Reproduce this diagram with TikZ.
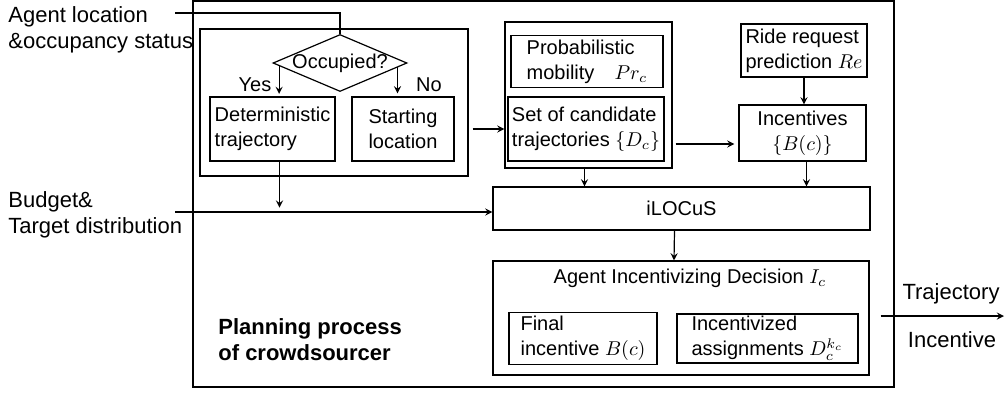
\documentclass[tikz,border=0pt]{standalone}
\usepackage{fontspec}
\setmainfont{Liberation Sans}
\usetikzlibrary{shapes.geometric,arrows,positioning,calc}

\begin{document}
\begin{tikzpicture}[
    x=0.5pt, y=-0.5pt,
    font=\fontsize{10}{12.5}\selectfont,
    box/.style={rectangle, draw=black, line width=0.6pt, inner sep=2pt, align=left},
    arrow/.style={->, >=stealth, line width=0.6pt},
    wire/.style={line width=0.6pt},
    lbl/.style={inner sep=0pt, align=left, font=\fontsize{11}{13}\selectfont}
]
\useasboundingbox (0,0) rectangle (1005,392);

% outer frame and the two groups
\node[box, minimum width=350.5pt, minimum height=193pt] (frame) at (543.5,194) {};
\node[box, minimum width=134pt, minimum height=73.5pt] (grp1) at (334,102.5) {};
\node[box, minimum width=83.5pt, minimum height=73pt] (grp2) at (588.5,95) {};

% left group
\node[diamond, draw, line width=0.6pt, aspect=2.35, inner xsep=-4pt, inner ysep=0pt,
      minimum width=67pt, minimum height=28.5pt] (occ) at (340,63) {Occupied?};
\node[box, minimum width=62.5pt, minimum height=32pt] (det) at (272.5,129) {Deterministic\\trajectory};
\node[box, minimum width=51pt, minimum height=32pt] (start) at (403,129) {Starting\\location};
\node[inner sep=0pt] (yes) at (255,85) {Yes};
\node[inner sep=0pt] (no) at (429,85) {No};

% middle and right
\node[box, minimum width=76pt, minimum height=25.5pt] (prob) at (587,61.5) {Probabilistic\\mobility\quad$Pr_c$};
\node[box, minimum width=77pt, minimum height=32pt] (cand) at (586,129) {Set of candidate\\trajectories $\{D_c\}$};
\node[box, minimum width=63pt, minimum height=26.5pt] (ride) at (804,50.5) {Ride request\\prediction $Re$};
\node[box, minimum width=63.5pt, minimum height=28pt, align=center] (inc) at (802.5,133) {Incentives\\$\{B(c)\}$};
\node[box, minimum width=188.5pt, minimum height=21.5pt] (ilocus) at (681.5,208.5) {iLOCuS};

% decision
\node[box, minimum width=188pt, minimum height=57pt] (dec) at (681,318) {};
\node[inner sep=0pt] (dectitle) at (690,278) {Agent Incentivizing Decision $I_c$};
\node[box, minimum width=74pt, minimum height=24.5pt] (fin) at (583,338.5) {Final\\incentive $B(c)$};
\node[box, minimum width=90.5pt, minimum height=24.5pt, inner sep=1pt] (asg) at (767.5,338.5) {Incentivized\\assignments $D_c^{k_c}$};
\node[lbl, font=\fontsize{11}{13}\selectfont\bfseries, anchor=west] (plan) at (218,340) {Planning process\\of crowdsourcer};

% inputs and outputs
\node[lbl, anchor=west] (agent) at (8,29.5) {Agent location\\\&occupancy status};
\node[lbl, anchor=west] (budget) at (8,215) {Budget\&\\Target distribution};
\coordinate (agentin) at (175,13);
\coordinate (budin) at (175,212);
\coordinate (out) at (1004,316);
\node[lbl] (traj) at (951,294) {Trajectory};
\node[lbl] (incout) at (952,340) {Incentive};

% connectors
\draw[wire] (agentin) -| (occ.north);
\draw[arrow] ($(occ.west)!0.1!(occ.south)$) -- ++(0,28);
\draw[arrow] ($(occ.east)!0.15!(occ.south)$) -- ++(0,26);
\draw[arrow] ([xshift=3.5pt]det.south) -- ++(0,46);
\draw[arrow] (budin) -- (budin -| ilocus.west);
\draw[arrow, shorten <=2pt] (grp1.east |- cand.center) -- (grp2.west |- cand.center);
\draw[arrow] ([xshift=5.5pt,yshift=-7.5pt]cand.east) -- ([xshift=-2pt,yshift=-5.5pt]inc.west);
\draw[arrow] (ride) -- (ride |- inc.north);
\draw[arrow] ([xshift=-2pt]grp2.south) -- ([xshift=-2pt]grp2.south |- ilocus.north);
\draw[arrow] ([xshift=2pt]inc.south) -- ([xshift=2pt]inc.south |- ilocus.north);
\draw[arrow] ([xshift=-3.5pt]ilocus.south) -- ([xshift=-3.5pt]dec.north);
\draw[arrow] ([xshift=5.5pt,yshift=1pt]dec.east) -- (out);

\end{tikzpicture}
\end{document}
